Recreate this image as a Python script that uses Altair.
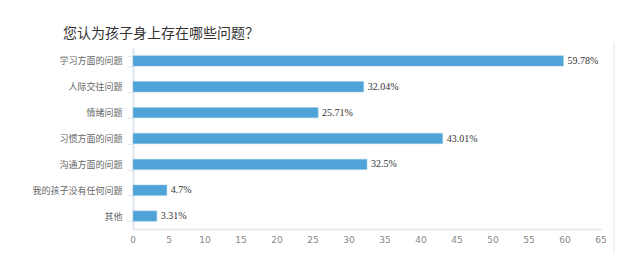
import altair as alt
import pandas as pd

categories = ["学习方面的问题", "人际交往问题", "情绪问题", "习惯方面的问题",
              "沟通方面的问题", "我的孩子没有任何问题", "其他"]
values = [59.78, 32.04, 25.71, 43.01, 32.5, 4.7, 3.31]
x_ticks = list(range(0, 70, 5))

df = pd.DataFrame({"cat": categories, "v": values,
                   "lbl": [f"{v}%" for v in values]})
ticks_df = pd.DataFrame({"v": x_ticks, "t": [str(t) for t in x_ticks]})

cjk = "Noto Sans CJK SC"

x_scale = alt.Scale(domain=[0, 65], nice=False)
x_axis = alt.Axis(title=None, values=x_ticks, ticks=False, grid=False, labels=False,
                  domainColor="#dde5ee", domainWidth=1.5)

base = alt.Chart(df).encode(
    y=alt.Y("cat:N", sort=categories,
            scale=alt.Scale(paddingInner=0.6, paddingOuter=0.3),
            axis=alt.Axis(title=None, labelFont=cjk, labelFontSize=9, labelColor="#666666",
                          tickBand="extent", tickSize=6, tickColor="#dde5ee",
                          domainColor="#dde5ee", domainWidth=2, labelPadding=5)),
    x=alt.X("v:Q", scale=x_scale, axis=x_axis),
)

bars = base.mark_bar(color="#4fa3d6", stroke="#8cc4e6", strokeWidth=0.5)

labels = base.mark_text(align="left", baseline="middle", dx=4, font="Liberation Serif",
                        fontSize=10, fontWeight="normal", color="#333333").encode(
    text="lbl:N",
)

tick_labels = alt.Chart(ticks_df).mark_text(
    baseline="middle", align="center", font="DejaVu Sans", fontSize=9, color="#888888"
).encode(
    x=alt.X("v:Q", scale=x_scale, axis=x_axis),
    y=alt.value(192),
    text="t:N",
)

border = alt.Chart(df).mark_rule(color="#eef1f5", strokeWidth=2).encode(
    x=alt.value(481), y=alt.value(-6), y2=alt.value(205)
)

chart = (bars + labels + tick_labels + border).properties(
    width=468, height=181,
    title=alt.TitleParams("您认为孩子身上存在哪些问题？", anchor="start", frame="group",
                          dx=-70, font=cjk, fontSize=14, fontWeight="normal",
                          color="#333333", offset=0),
    autosize=alt.AutoSizeParams(type="none"),
    padding={"left": 133, "top": 48, "right": 34, "bottom": 34},
).configure_view(stroke=None)

chart.save("out.html", embed_options={"renderer": "svg", "actions": False})
